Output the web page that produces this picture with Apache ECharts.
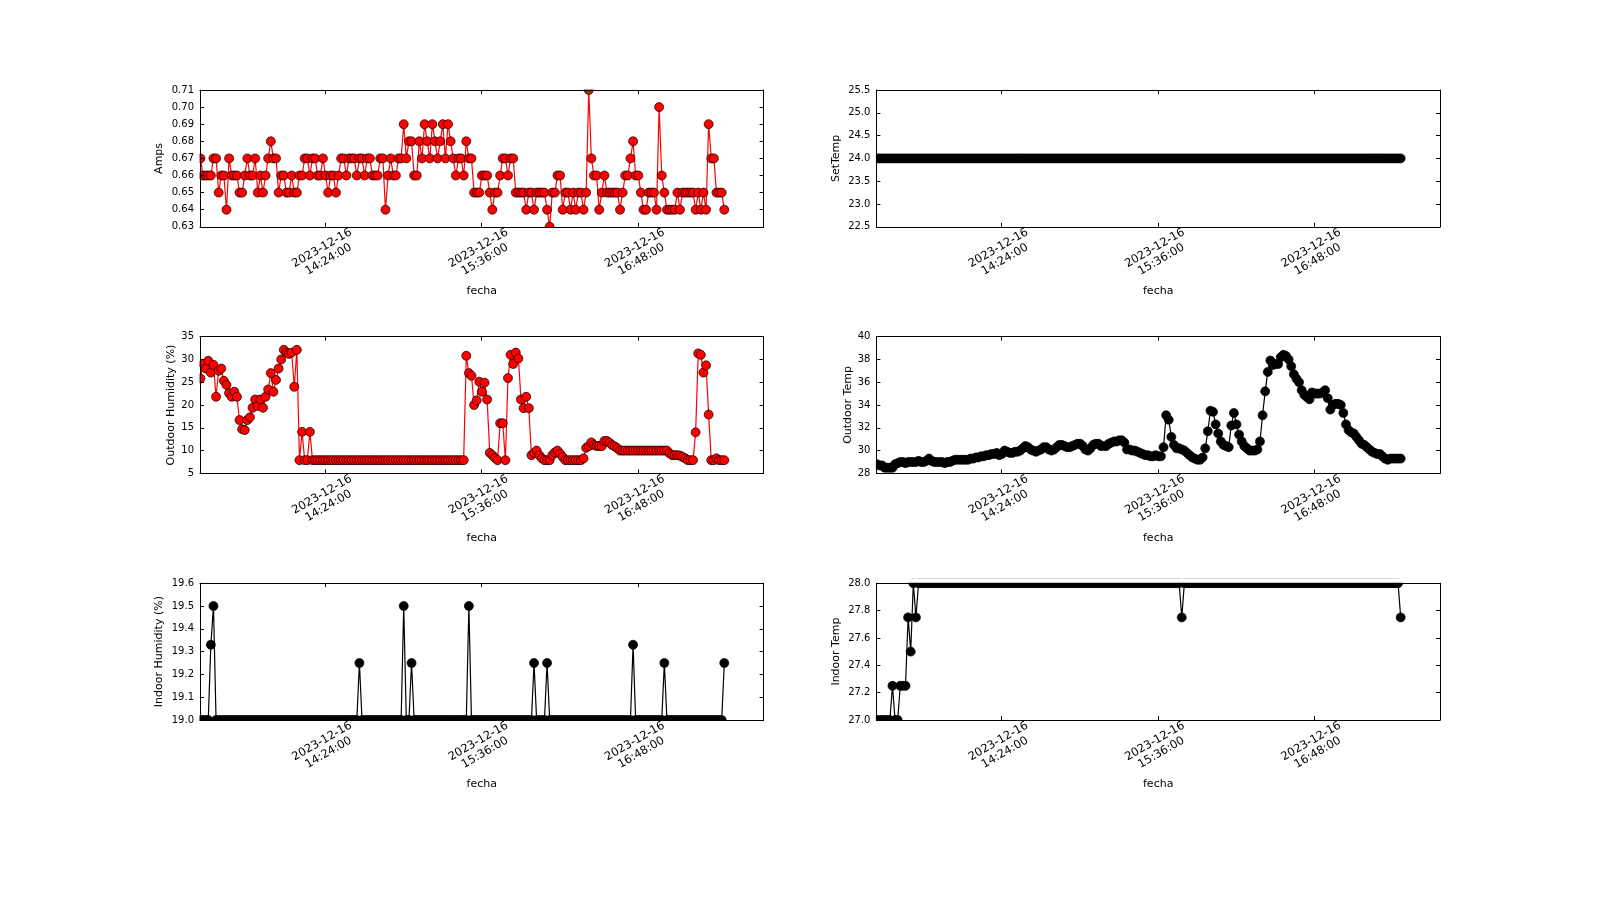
<!DOCTYPE html>
<html>
<head>
<meta charset="utf-8">
<title>sensores 2023-12-16</title>
<script src="https://cdn.jsdelivr.net/npm/echarts@6.0.0/dist/echarts.min.js"></script>
<style>
  html, body { margin: 0; padding: 0; background: #fff; }
  #chart { width: 1600px; height: 900px; }
</style>
</head>
<body>
<div id="chart"></div>
<script>
// hora de cada lectura, 2023-12-16
const fecha = [
  '13:26:30','13:27:42','13:28:54','13:30:06','13:31:18','13:32:30','13:33:42','13:34:54','13:36:06','13:37:18',
  '13:38:30','13:39:42','13:40:54','13:42:06','13:43:18','13:44:30','13:45:42','13:46:54','13:48:06','13:49:18',
  '13:50:30','13:51:42','13:52:54','13:54:06','13:55:18','13:56:30','13:57:42','13:58:54','14:00:06','14:01:18',
  '14:02:30','14:03:42','14:04:54','14:06:06','14:07:18','14:08:30','14:09:42','14:10:54','14:12:06','14:13:18',
  '14:14:30','14:15:42','14:16:54','14:18:06','14:19:18','14:20:30','14:21:42','14:22:54','14:24:06','14:25:18',
  '14:26:30','14:27:42','14:28:54','14:30:06','14:31:18','14:32:30','14:33:42','14:34:54','14:36:06','14:37:18',
  '14:38:30','14:39:42','14:40:54','14:42:06','14:43:18','14:44:30','14:45:42','14:46:54','14:48:06','14:49:18',
  '14:50:30','14:51:42','14:52:54','14:54:06','14:55:18','14:56:30','14:57:42','14:58:54','15:00:06','15:01:18',
  '15:02:30','15:03:42','15:04:54','15:06:06','15:07:18','15:08:30','15:09:42','15:10:54','15:12:06','15:13:18',
  '15:14:30','15:15:42','15:16:54','15:18:06','15:19:18','15:20:30','15:21:42','15:22:54','15:24:06','15:25:18',
  '15:26:30','15:27:42','15:28:54','15:30:06','15:31:18','15:32:30','15:33:42','15:34:54','15:36:06','15:37:18',
  '15:38:30','15:39:42','15:40:54','15:42:06','15:43:18','15:44:30','15:45:42','15:46:54','15:48:06','15:49:18',
  '15:50:30','15:51:42','15:52:54','15:54:06','15:55:18','15:56:30','15:57:42','15:58:54','16:00:06','16:01:18',
  '16:02:30','16:03:42','16:04:54','16:06:06','16:07:18','16:08:30','16:09:42','16:10:54','16:12:06','16:13:18',
  '16:14:30','16:15:42','16:16:54','16:18:06','16:19:18','16:20:30','16:21:42','16:22:54','16:24:06','16:25:18',
  '16:26:30','16:27:42','16:28:54','16:30:06','16:31:18','16:32:30','16:33:42','16:34:54','16:36:06','16:37:18',
  '16:38:30','16:39:42','16:40:54','16:42:06','16:43:18','16:44:30','16:45:42','16:46:54','16:48:06','16:49:18',
  '16:50:30','16:51:42','16:52:54','16:54:06','16:55:18','16:56:30','16:57:42','16:58:54','17:00:06','17:01:18',
  '17:02:30','17:03:42','17:04:54','17:06:06','17:07:18','17:08:30','17:09:42','17:10:54','17:12:06','17:13:18',
  '17:14:30','17:15:42','17:16:54','17:18:06','17:19:18','17:20:30','17:21:42','17:22:54','17:24:06','17:25:18',
  '17:26:30','17:27:42'
];

const amps = [
  0.67,0.66,0.66,0.66,0.66,0.67,0.67,0.65,0.66,0.66,
  0.64,0.67,0.66,0.66,0.66,0.65,0.65,0.66,0.67,0.66,
  0.66,0.67,0.65,0.66,0.65,0.66,0.67,0.68,0.67,0.67,
  0.65,0.66,0.66,0.65,0.65,0.66,0.65,0.65,0.66,0.66,
  0.67,0.67,0.66,0.67,0.67,0.66,0.66,0.67,0.66,0.65,
  0.66,0.66,0.65,0.66,0.67,0.67,0.66,0.67,0.67,0.67,
  0.66,0.67,0.67,0.66,0.67,0.67,0.66,0.66,0.66,0.67,
  0.67,0.64,0.66,0.67,0.66,0.66,0.67,0.67,0.69,0.67,
  0.68,0.68,0.66,0.66,0.68,0.67,0.69,0.68,0.67,0.69,
  0.68,0.67,0.68,0.69,0.67,0.69,0.68,0.67,0.66,0.67,
  0.67,0.66,0.68,0.67,0.67,0.65,0.65,0.65,0.66,0.66,
  0.66,0.65,0.64,0.65,0.65,0.66,0.67,0.67,0.66,0.67,
  0.67,0.65,0.65,0.65,0.65,0.64,0.65,0.65,0.64,0.65,
  0.65,0.65,0.65,0.64,0.63,0.65,0.65,0.66,0.66,0.64,
  0.65,0.65,0.64,0.65,0.64,0.65,0.65,0.64,0.65,0.71,
  0.67,0.66,0.66,0.64,0.65,0.66,0.65,0.65,0.65,0.65,
  0.65,0.64,0.65,0.66,0.66,0.67,0.68,0.66,0.66,0.65,
  0.64,0.64,0.65,0.65,0.65,0.64,0.70,0.66,0.65,0.64,
  0.64,0.64,0.64,0.65,0.64,0.65,0.65,0.65,0.65,0.65,
  0.64,0.65,0.64,0.65,0.64,0.69,0.67,0.67,0.65,0.65,
  0.65,0.64
];

const setTemp = [
  24,24,24,24,24,24,24,24,24,24, 24,24,24,24,24,24,24,24,24,24,
  24,24,24,24,24,24,24,24,24,24, 24,24,24,24,24,24,24,24,24,24,
  24,24,24,24,24,24,24,24,24,24, 24,24,24,24,24,24,24,24,24,24,
  24,24,24,24,24,24,24,24,24,24, 24,24,24,24,24,24,24,24,24,24,
  24,24,24,24,24,24,24,24,24,24, 24,24,24,24,24,24,24,24,24,24,
  24,24,24,24,24,24,24,24,24,24, 24,24,24,24,24,24,24,24,24,24,
  24,24,24,24,24,24,24,24,24,24, 24,24,24,24,24,24,24,24,24,24,
  24,24,24,24,24,24,24,24,24,24, 24,24,24,24,24,24,24,24,24,24,
  24,24,24,24,24,24,24,24,24,24, 24,24,24,24,24,24,24,24,24,24,
  24,24,24,24,24,24,24,24,24,24, 24,24,24,24,24,24,24,24,24,24,
  24,24
];

const outHum = [
  25.8,29.0,28.0,29.7,27.1,28.8,21.8,27.5,28.0,25.3,
  24.4,22.6,21.8,22.9,21.8,16.7,14.7,14.5,16.7,17.3,
  19.4,21.2,19.8,21.2,19.4,21.8,23.4,27.0,22.9,25.5,
  28.0,30.0,32.1,31.5,31.2,31.5,24.0,32.1,7.9,14.1,
  7.9,7.9,14.1,7.9,7.9,7.9,7.9,7.9,7.9,7.9,
  7.9,7.9,7.9,7.9,7.9,7.9,7.9,7.9,7.9,7.9,
  7.9,7.9,7.9,7.9,7.9,7.9,7.9,7.9,7.9,7.9,
  7.9,7.9,7.9,7.9,7.9,7.9,7.9,7.9,7.9,7.9,
  7.9,7.9,7.9,7.9,7.9,7.9,7.9,7.9,7.9,7.9,
  7.9,7.9,7.9,7.9,7.9,7.9,7.9,7.9,7.9,7.9,
  7.9,7.9,30.8,27.0,26.4,20.0,21.0,25.1,22.9,24.9,
  21.2,9.5,9.0,8.4,7.9,16.0,16.0,7.9,25.9,31.0,
  29.0,31.5,30.2,21.2,19.3,21.8,19.3,9.0,9.5,10.0,
  9.0,8.3,7.9,7.9,7.9,9.0,9.6,10.0,9.3,8.6,
  7.9,7.9,7.9,7.9,7.9,7.9,7.9,8.3,10.6,11.0,
  11.8,11.2,11.0,11.0,11.0,12.1,12.1,11.7,11.2,10.9,
  10.5,10.0,10.0,10.0,10.0,10.0,10.0,10.0,10.0,10.0,
  10.0,10.0,10.0,10.0,10.0,10.0,10.0,10.0,10.0,10.0,
  9.4,9.0,9.0,9.0,8.9,8.6,8.3,7.9,7.9,7.9,
  14.0,31.3,31.0,27.1,28.7,17.9,7.9,7.9,8.3,7.9,
  7.9,7.9
];

const outTemp = [
  28.8,28.7,28.7,28.5,28.5,28.5,28.5,28.8,28.9,29.0,
  29.0,28.9,29.0,29.0,29.0,29.0,29.1,29.0,29.0,29.1,
  29.3,29.1,29.0,29.0,29.0,29.0,28.9,29.0,29.0,29.1,
  29.2,29.2,29.2,29.2,29.2,29.2,29.3,29.3,29.4,29.4,
  29.5,29.5,29.6,29.6,29.7,29.7,29.8,29.6,29.7,30.0,
  29.9,29.8,29.8,29.9,29.9,30.0,30.2,30.4,30.3,30.1,
  30.0,29.9,30.0,30.1,30.3,30.3,30.1,30.0,30.1,30.3,
  30.5,30.5,30.4,30.3,30.3,30.4,30.5,30.6,30.6,30.4,
  30.1,30.0,30.2,30.5,30.6,30.6,30.4,30.4,30.4,30.6,
  30.7,30.8,30.8,30.9,30.9,30.7,30.1,30.1,30.0,30.0,
  29.9,29.8,29.7,29.6,29.6,29.5,29.5,29.6,29.5,29.5,
  30.3,33.1,32.7,31.2,30.5,30.2,30.2,30.1,30.0,29.8,
  29.6,29.4,29.3,29.2,29.2,29.4,30.2,31.7,33.5,33.4,
  32.3,31.5,30.8,30.5,30.4,30.3,32.2,33.3,32.3,31.4,
  30.8,30.4,30.2,30.0,30.0,30.0,30.1,30.8,33.1,35.2,
  36.9,37.9,37.5,37.6,37.6,38.2,38.4,38.3,38.0,37.4,
  36.7,36.3,36.0,35.3,34.9,34.7,34.5,35.1,35.0,35.0,
  35.0,35.1,35.3,34.6,33.6,34.0,34.1,34.1,34.0,33.3,
  32.3,31.8,31.6,31.5,31.2,30.9,30.6,30.5,30.3,30.1,
  29.9,29.8,29.7,29.7,29.5,29.3,29.2,29.3,29.3,29.3,
  29.3,29.3
];

const inHum = [
  19,19,19,19,19.33,19.5,19,19,19,19,
  19,19,19,19,19,19,19,19,19,19,
  19,19,19,19,19,19,19,19,19,19,
  19,19,19,19,19,19,19,19,19,19,
  19,19,19,19,19,19,19,19,19,19,
  19,19,19,19,19,19,19,19,19,19,
  19,19.25,19,19,19,19,19,19,19,19,
  19,19,19,19,19,19,19,19,19.5,19,
  19,19.25,19,19,19,19,19,19,19,19,
  19,19,19,19,19,19,19,19,19,19,
  19,19,19,19.5,19,19,19,19,19,19,
  19,19,19,19,19,19,19,19,19,19,
  19,19,19,19,19,19,19,19,19.25,19,
  19,19,19,19.25,19,19,19,19,19,19,
  19,19,19,19,19,19,19,19,19,19,
  19,19,19,19,19,19,19,19,19,19,
  19,19,19,19,19,19,19.33,19,19,19,
  19,19,19,19,19,19,19,19,19.25,19,
  19,19,19,19,19,19,19,19,19,19,
  19,19,19,19,19,19,19,19,19,19,
  19,19.25
];

const inTemp = [
  27,27,27,27,27,27,27.25,27,27,27.25,
  27.25,27.25,27.75,27.5,28,27.75,28,28,28,28,
  28,28,28,28,28,28,28,28,28,28,
  28,28,28,28,28,28,28,28,28,28,
  28,28,28,28,28,28,28,28,28,28,
  28,28,28,28,28,28,28,28,28,28,
  28,28,28,28,28,28,28,28,28,28,
  28,28,28,28,28,28,28,28,28,28,
  28,28,28,28,28,28,28,28,28,28,
  28,28,28,28,28,28,28,28,28,28,
  28,28,28,28,28,28,28,28,28,28,
  28,28,28,28,28,28,28,27.75,28,28,
  28,28,28,28,28,28,28,28,28,28,
  28,28,28,28,28,28,28,28,28,28,
  28,28,28,28,28,28,28,28,28,28,
  28,28,28,28,28,28,28,28,28,28,
  28,28,28,28,28,28,28,28,28,28,
  28,28,28,28,28,28,28,28,28,28,
  28,28,28,28,28,28,28,28,28,28,
  28,28,28,28,28,28,28,28,28,28,
  28,27.75
];

// marcas del eje de tiempo
const tickTimes = ['14:24:00', '15:36:00', '16:48:00'];
const xMin = 806.3;   // 13:26:18
const xMax = 1065.8;  // 17:45:48

const panels = [
  {name: 'Amps', values: amps, color: '#ff0000', min: 0.63, max: 0.71, step: 0.01, dec: 2, gap: 35},
  {name: 'SetTemp', values: setTemp, color: '#000000', min: 22.5, max: 25.5, step: 0.5, dec: 1, gap: 35},
  {name: 'Outdoor Humidity (%)', values: outHum, color: '#ff0000', min: 5, max: 35, step: 5, dec: 0, gap: 23},
  {name: 'Outdoor Temp', values: outTemp, color: '#000000', min: 28, max: 40, step: 2, dec: 0, gap: 23},
  {name: 'Indoor Humidity (%)', values: inHum, color: '#000000', min: 19.0, max: 19.6, step: 0.1, dec: 1, gap: 35},
  {name: 'Indoor Temp', values: inTemp, color: '#000000', min: 27.0, max: 28.0, step: 0.2, dec: 1, gap: 35}
];

const colLeft = [200, 876.4];
const rowTop = [90, 336.6, 583.2];
const plotW = 563.6;
const plotH = 136.8;

const font = {fontFamily: 'DejaVu Sans', fontSize: 10, color: '#000'};
const nameFont = {fontFamily: 'DejaVu Sans', fontSize: 11, color: '#000'};
const black = {color: '#000', width: 1};

function toMin(s) {
  let p = s.split(':').map(Number);
  return p[0] * 60 + p[1] + p[2] / 60;
}

function pad(n) {
  return (n < 10 ? '0' : '') + n;
}

function fmtTime(m) {
  let sec = Math.round(m * 60);
  return '2023-12-16\n' + pad(Math.floor(sec / 3600)) + ':' + pad(Math.floor(sec / 60) % 60) + ':' + pad(sec % 60);
}

const tickMin = tickTimes.map(toMin);
const xs = fecha.map(toMin);

let grids = [], xAxes = [], yAxes = [], series = [], masks = [];

panels.forEach((p, k) => {
  let left = colLeft[k % 2];
  let top = rowTop[Math.floor(k / 2)];
  grids.push({left: left, top: top, width: plotW, height: plotH, containLabel: false, outerBoundsMode: 'none'});

  // eje de tiempo abajo (con etiquetas) y arriba (solo marcas)
  xAxes.push({
    type: 'value', gridIndex: k, position: 'bottom', min: xMin, max: xMax, z: 20,
    axisLine: {show: true, onZero: false, lineStyle: black},
    axisTick: {show: true, inside: true, length: 4, lineStyle: black, customValues: tickMin},
    axisLabel: {
      show: true, customValues: tickMin, formatter: v => fmtTime(v),
      rotate: 30, align: 'center', verticalAlign: 'middle', margin: 27, lineHeight: 13,
      fontFamily: 'DejaVu Sans', fontSize: 11.5, color: '#000'
    },
    splitLine: {show: false},
    name: 'fecha', nameLocation: 'middle', nameGap: 59, nameTextStyle: nameFont
  });
  xAxes.push({
    type: 'value', gridIndex: k, position: 'top', min: xMin, max: xMax, z: 20,
    axisLine: {show: true, onZero: false, lineStyle: black},
    axisTick: {show: true, inside: true, length: 4, lineStyle: black, customValues: tickMin},
    axisLabel: {show: false},
    splitLine: {show: false}
  });

  yAxes.push({
    type: 'value', gridIndex: k, position: 'left', min: p.min, max: p.max, interval: p.step, z: 20,
    axisLine: {show: true, onZero: false, lineStyle: black},
    axisTick: {show: true, inside: true, length: 4, lineStyle: black},
    axisLabel: {show: true, margin: 6, formatter: v => v.toFixed(p.dec), ...font},
    splitLine: {show: false},
    name: p.name, nameLocation: 'middle', nameRotate: 90, nameGap: p.gap, nameTextStyle: nameFont
  });
  yAxes.push({
    type: 'value', gridIndex: k, position: 'right', min: p.min, max: p.max, interval: p.step, z: 20,
    axisLine: {show: true, onZero: false, lineStyle: black},
    axisTick: {show: true, inside: true, length: 4, lineStyle: black},
    axisLabel: {show: false},
    splitLine: {show: false}
  });

  series.push({
    type: 'line', xAxisIndex: 2 * k, yAxisIndex: 2 * k,
    data: xs.map((x, i) => [x, p.values[i]]),
    symbol: 'circle', symbolSize: 9, showSymbol: true, showAllSymbol: true, clip: true,
    lineStyle: {color: p.color, width: 1.2},
    itemStyle: {color: p.color, borderColor: '#000', borderWidth: 0.7},
    emphasis: {disabled: true}, silent: true, animation: false
  });

  // tapar lo que sale del marco (como el recorte de matplotlib), debajo de los ejes
  let b = 5;
  [
    [left - b, top - b, plotW + 2 * b, b - 0.5],
    [left - b, top + plotH + 0.5, plotW + 2 * b, b - 0.5],
    [left - b, top - b, b - 0.5, plotH + 2 * b],
    [left + plotW + 0.5, top - b, b - 0.5, plotH + 2 * b]
  ].forEach(r => masks.push({
    type: 'rect', z: 10, silent: true,
    shape: {x: r[0], y: r[1], width: r[2], height: r[3]},
    style: {fill: '#fff'}
  }));
});

let chart = echarts.init(document.getElementById('chart'), null, {renderer: 'canvas'});
chart.setOption({
  backgroundColor: '#fff',
  animation: false,
  grid: grids,
  xAxis: xAxes,
  yAxis: yAxes,
  series: series,
  graphic: masks
});
</script>
</body>
</html>
